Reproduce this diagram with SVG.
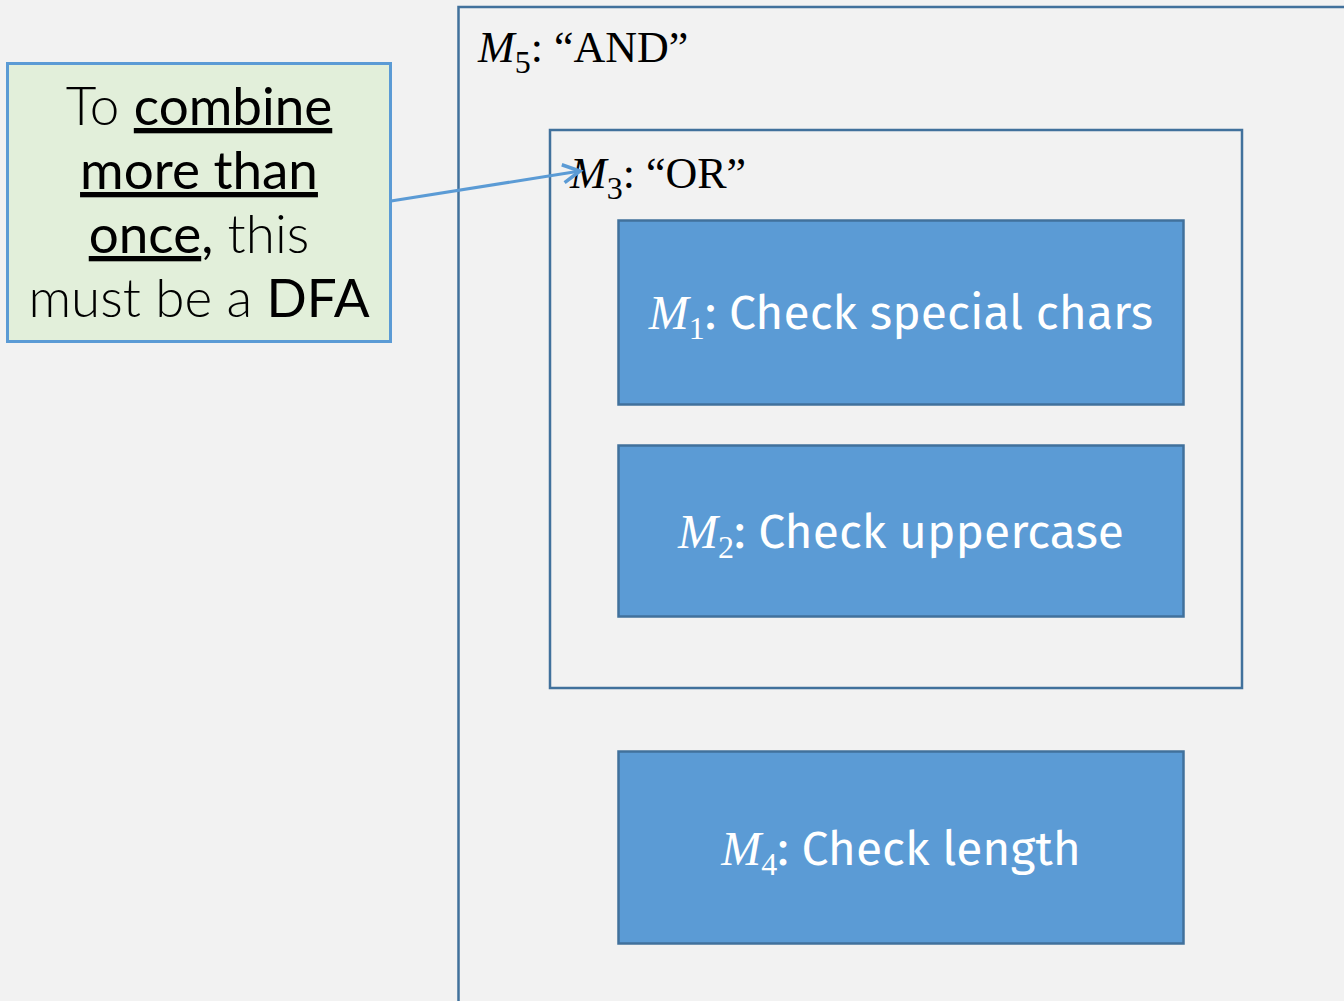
<svg xmlns="http://www.w3.org/2000/svg" width="1344" height="1001" viewBox="0 0 1344 1001">
<style>
.frame{fill:none;stroke:#41719c;stroke-width:2.5}
.blk{fill:#5b9bd5;stroke:#41719c;stroke-width:2.5}
.bt{font-family:"Fira Sans","Lato","Open Sans",sans-serif;font-size:48px;fill:#ffffff;text-anchor:middle}
.math{font-family:"Liberation Serif",serif;font-style:italic}
.sub{font-family:"Liberation Serif",serif;font-style:normal}
.lbl{font-family:"Liberation Serif",serif;font-size:44px;fill:#000}
.note{font-family:"Lato","Open Sans",sans-serif;font-size:53px;fill:#000;text-anchor:middle;font-weight:300}
.em{font-weight:400;text-decoration:underline}
.bold{font-weight:400}
</style>
<defs>
<marker id="arr" markerWidth="24" markerHeight="24" refX="20" refY="12" orient="auto" markerUnits="userSpaceOnUse" viewBox="0 0 24 24">
<path d="M3,3 L20,12 L3,21" fill="none" stroke="#5b9bd5" stroke-width="3.5"/>
</marker>
</defs>
<rect width="1344" height="1001" fill="#f2f2f2"/>
<g id="M5">
<rect class="frame" x="458.5" y="7" width="900" height="1010"/>
<text class="lbl" x="478" y="62"><tspan class="math">M</tspan><tspan class="sub" font-size="32" dy="11">5</tspan><tspan dy="-11">: “AND”</tspan></text>
</g>
<g id="M3">
<rect class="frame" x="550" y="130" width="692" height="558"/>
<text class="lbl" x="570" y="188"><tspan class="math">M</tspan><tspan class="sub" font-size="32" dy="11">3</tspan><tspan dy="-11">: “OR”</tspan></text>
</g>
<g id="M1">
<rect class="blk" x="618.5" y="220.5" width="565" height="184"/>
<text class="bt" x="901" y="329"><tspan class="math">M</tspan><tspan class="sub" font-size="32" dy="10">1</tspan><tspan dy="-10">: Check special chars</tspan></text>
</g>
<g id="M2">
<rect class="blk" x="618.5" y="445.5" width="565" height="171"/>
<text class="bt" x="901" y="548"><tspan class="math">M</tspan><tspan class="sub" font-size="32" dy="10">2</tspan><tspan dy="-10">: Check uppercase</tspan></text>
</g>
<g id="M4">
<rect class="blk" x="618.5" y="751.5" width="565" height="192"/>
<text class="bt" x="901" y="865"><tspan class="math">M</tspan><tspan class="sub" font-size="32" dy="10">4</tspan><tspan dy="-10">: Check length</tspan></text>
</g>
<g id="note">
<rect x="7.5" y="63.5" width="383" height="278" fill="#e2efda" stroke="#5b9bd5" stroke-width="3"/>
<text class="note" x="199" y="125">To <tspan class="em">combine</tspan></text>
<text class="note" x="199" y="189"><tspan class="em">more than</tspan></text>
<text class="note" x="199" y="253"><tspan class="em">once</tspan><tspan class="bold">,</tspan> this</text>
<text class="note" x="199" y="317">must be a <tspan class="bold">DFA</tspan></text>
</g>
<g id="connectors">
<line x1="391" y1="201" x2="580" y2="171" stroke="#5b9bd5" stroke-width="3" marker-end="url(#arr)"/>
</g>
</svg>
